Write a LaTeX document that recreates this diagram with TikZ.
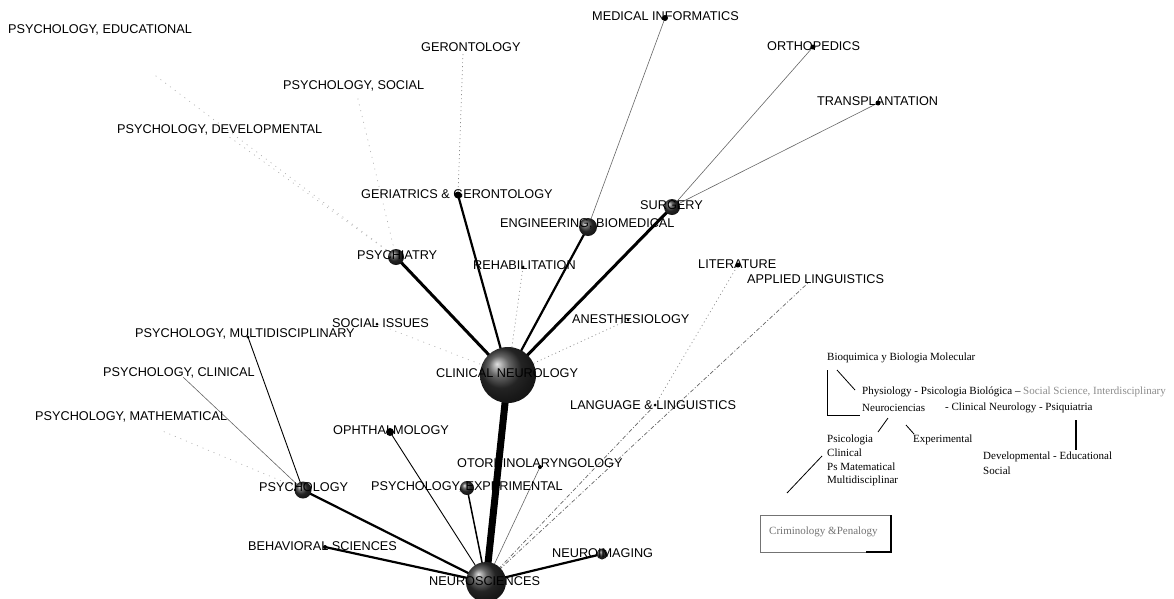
\documentclass[tikz,border=0pt]{standalone}
\usepackage{fontspec}
\setmainfont{Liberation Serif}
\newfontfamily\arialf{Liberation Sans}
\pgfdeclarelayer{edgelayer}
\pgfsetlayers{edgelayer,main}
\begin{document}
\begin{tikzpicture}[x=1pt,y=-1pt,
  lbl/.style={font=\arialf\fontsize{12.7}{14}\selectfont, inner sep=0pt, anchor=west},
  sball/.style={circle, inner sep=0pt, minimum size=#1, shading=ball, ball color=gray!40!black},
  dotn/.style={circle, inner sep=0pt, minimum size=#1, fill=black},
  ser/.style={font=\fontsize{11}{13}\selectfont, inner sep=0pt, anchor=west},
  eultra/.style={line width=7pt},
  eheavy/.style={line width=3pt},
  estrong/.style={line width=2.2pt},
  emed/.style={line width=1.5pt},
  ethin/.style={line width=0.9pt},
  egray/.style={line width=0.6pt, black!60},
  edot/.style={line width=0.7pt, black!45, dash pattern=on 1pt off 3pt},
  efaint/.style={line width=0.7pt, black!30, dash pattern=on 1pt off 5pt},
  edashdot/.style={line width=0.7pt, black!60, dash pattern=on 4pt off 2pt on 1pt off 2pt},
  thinline/.style={line width=0.8pt}
]
\useasboundingbox (0,0) rectangle (1174,598);

% ---- ball / dot nodes ----
\node[sball=56pt] (cn) at (508,375) {};
\node[sball=40pt] (ns) at (486,582) {};
\node[sball=16pt] (psychiatry) at (396,257) {};
\node[dotn=7pt] (geriatrics) at (458,195) {};
\node[sball=18pt] (eng) at (588,227) {};
\node[sball=16pt] (surgery) at (672,207) {};
\node[dotn=3pt] (rehab) at (523,267) {};
\node[dotn=3pt] (anesth) at (628,320) {};
\node[dotn=3pt] (socissues) at (377,324) {};
\coordinate (geronto) at (463,52);
\node[dotn=6pt] (medinf) at (665,18) {};
\node[dotn=5pt] (ortho) at (813,47) {};
\node[dotn=5pt] (transpl) at (878,103) {};
\node[dotn=5pt] (literature) at (738,265) {};
\coordinate (applied) at (808,283);
\node[dotn=3pt] (language) at (655,405) {};
\node[sball=17pt] (psychology) at (303,490) {};
\node[dotn=3pt] (multidisc) at (248,337) {};
\coordinate (pclinical) at (183,377);
\coordinate (pmath) at (160,430);
\coordinate (peduc) at (152,73);
\coordinate (pdevel) at (228,136);
\coordinate (psocial) at (357,95);
\node[dotn=8pt] (ophthal) at (390,432) {};
\node[sball=14pt] (pexper) at (467,488) {};
\node[dotn=4pt] (otor) at (540,467) {};
\node[dotn=4pt] (behav) at (325,547) {};
\node[sball=11pt] (neuroimg) at (602,554) {};

% ---- connectors ----
\begin{pgfonlayer}{edgelayer}
\draw[eultra] (cn.center) -- (ns.center);
\draw[eheavy] (cn.center) -- (psychiatry.center);
\draw[estrong] (cn.center) -- (geriatrics.center);
\draw[estrong] (cn.center) -- (eng.center);
\draw[eheavy] (cn.center) -- (surgery.center);
\draw[edot] (cn.center) -- (rehab.center);
\draw[edot] (cn.center) -- (anesth.center);
\draw[efaint] (cn.center) -- (socissues.center);
\draw[edot] (geriatrics.center) -- (geronto);
\draw[efaint] (psychiatry.center) -- (psocial);
\draw[efaint] (psychiatry.center) -- (pdevel);
\draw[efaint] (psychiatry.center) -- (peduc);
\draw[egray] (eng.center) -- (medinf.center);
\draw[egray] (surgery.center) -- (ortho.center);
\draw[egray] (surgery.center) -- (transpl.center);
\draw[edashdot] (ns.center) -- (language.center);
\draw[edot] (language.center) -- (literature.center);
\draw[edashdot] (ns.center) -- (applied);
\draw[estrong] (psychology.center) -- (ns.center);
\draw[ethin] (psychology.center) -- (multidisc.center);
\draw[egray] (psychology.center) -- (pclinical);
\draw[efaint] (psychology.center) -- (pmath);
\draw[ethin] (ophthal.center) -- (ns.center);
\draw[emed] (pexper.center) -- (ns.center);
\draw[egray] (otor.center) -- (ns.center);
\draw[estrong] (behav.center) -- (ns.center);
\draw[estrong] (neuroimg.center) -- (ns.center);
\end{pgfonlayer}

% ---- labels ----
\node[lbl] (l-educ) at (8,30) {PSYCHOLOGY, EDUCATIONAL};
\node[lbl] (l-geronto) at (421,47) {GERONTOLOGY};
\node[lbl] (l-medinf) at (592,16) {MEDICAL INFORMATICS};
\node[lbl] (l-ortho) at (767,46) {ORTHOPEDICS};
\node[lbl] (l-transpl) at (817,101) {TRANSPLANTATION};
\node[lbl] (l-social) at (283,86) {PSYCHOLOGY, SOCIAL};
\node[lbl] (l-devel) at (117,130) {PSYCHOLOGY, DEVELOPMENTAL};
\node[lbl] (l-geriat) at (361,194) {GERIATRICS \& GERONTOLOGY};
\node[lbl] (l-surgery) at (640,205) {SURGERY};
\node[lbl] (l-eng) at (500,224) {ENGINEERING, BIOMEDICAL};
\node[lbl] (l-psychiatry) at (357,255) {PSYCHIATRY};
\node[lbl] (l-rehab) at (473,265) {REHABILITATION};
\node[lbl] (l-lit) at (698,264) {LITERATURE};
\node[lbl] (l-applied) at (747,279) {APPLIED LINGUISTICS};
\node[lbl] (l-anesth) at (572,319) {ANESTHESIOLOGY};
\node[lbl] (l-socissues) at (332,323) {SOCIAL ISSUES};
\node[lbl] (l-multi) at (135,334) {PSYCHOLOGY, MULTIDISCIPLINARY};
\node[lbl] (l-cn) at (436,373) {CLINICAL NEUROLOGY};
\node[lbl] (l-pclin) at (103,373) {PSYCHOLOGY, CLINICAL};
\node[lbl] (l-lang) at (570,405) {LANGUAGE \& LINGUISTICS};
\node[lbl] (l-math) at (35,417) {PSYCHOLOGY, MATHEMATICAL};
\node[lbl] (l-ophthal) at (333,430) {OPHTHALMOLOGY};
\node[lbl] (l-otor) at (457,463) {OTORHINOLARYNGOLOGY};
\node[lbl] (l-psychology) at (259,487) {PSYCHOLOGY};
\node[lbl] (l-pexper) at (371,487) {PSYCHOLOGY, EXPERIMENTAL};
\node[lbl] (l-behav) at (248,546) {BEHAVIORAL SCIENCES};
\node[lbl] (l-neuroimg) at (552,553) {NEUROIMAGING};
\node[lbl] (l-ns) at (429,581) {NEUROSCIENCES};

% ---- right-hand scheme ----
\node[ser] (s-bio) at (827,358) {Bioquimica y Biologia Molecular};
\node[ser] (s-phys) at (862,392) {Physiology - Psicologia Biológica -- \textcolor{black!45}{Social Science, Interdisciplinary}};
\node[ser] (s-neuro) at (862,408) {Neurociencias};
\node[ser] (s-clin) at (945,408) {- Clinical Neurology - Psiquiatria};
\node[ser] (s-psic) at (827,440) {Psicologia};
\node[ser] (s-clinical) at (827,453) {Clinical};
\node[ser] (s-mat) at (827,467) {Ps Matematical};
\node[ser] (s-multi) at (827,481) {Multidisciplinar};
\node[ser] (s-exp) at (913,440) {Experimental};
\node[ser] (s-dev) at (983,457) {Developmental - Educational};
\node[ser] (s-soc) at (983,471) {Social};
\node[ser, text=black!55] (s-crim) at (769,532) {Criminology \&Penalogy};

\coordinate (v1) at (827,370);
\coordinate (v2) at (827,415);
\coordinate (v3) at (860,415);
\draw[thinline] (v1) -- (v2) -- (v3);
\coordinate (d1) at (837,370);
\coordinate (d2) at (855,390);
\draw[thinline] (d1) -- (d2);
\coordinate (d3) at (888,418);
\coordinate (d4) at (878,432);
\draw[thinline] (d3) -- (d4);
\coordinate (d5) at (906,425);
\coordinate (d6) at (914,434);
\draw[thinline] (d5) -- (d6);
\coordinate (d7) at (1076,420);
\coordinate (d8) at (1076,450);
\draw[line width=1.2pt] (d7) -- (d8);
\coordinate (d9) at (822,456);
\coordinate (d10) at (787,493);
\draw[thinline] (d9) -- (d10);

\coordinate (b1) at (760,515);
\coordinate (b2) at (891,515);
\coordinate (b3) at (891,552);
\coordinate (b4) at (760,552);
\coordinate (b5) at (866,552);
\draw[line width=0.8pt, black!55] (b3) -- (b4) -- (b1) -- (b2);
\draw[line width=1.1pt] (b2) -- (b3) -- (b5);
\end{tikzpicture}
\end{document}
